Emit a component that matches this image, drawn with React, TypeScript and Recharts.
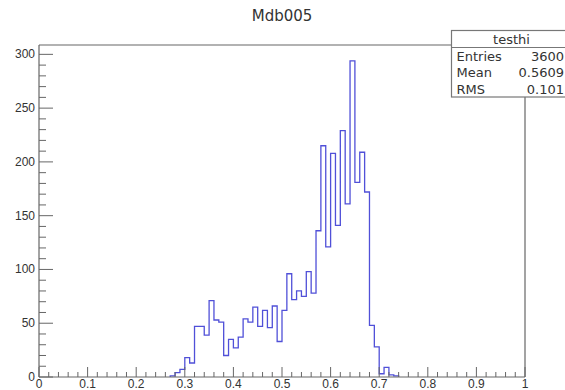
import React from 'react';
import { LineChart, Line, XAxis, YAxis, ReferenceLine } from 'recharts';

const title = 'Mdb005';
const statsName = 'testhi';
const statsLabels = ['Entries', 'Mean', 'RMS'];
const statsValues = ['3600', '0.5609', '0.101'];

// histogram: 100 bins over [0,1]; non-empty bins start at 0.27
const firstBinLow = 0.27;
const binWidth = 0.01;
const counts = [
  1, 4, 7, 18, 13, 47, 47, 39, 71, 53, 51, 20, 35, 27, 37, 54, 51, 65, 47, 62,
  46, 66, 33, 62, 96, 72, 80, 75, 98, 78, 136, 215, 121, 208, 141, 229, 161, 294,
  181, 209, 172, 48, 28, 3, 9, 2, 1,
];

const xTickLabels = ['0', '0.1', '0.2', '0.3', '0.4', '0.5', '0.6', '0.7', '0.8', '0.9', '1'];
const yTickLabels = ['0', '50', '100', '150', '200', '250', '300'];
const yMax = 308.7;

const histData = [
  { x: firstBinLow, count: 0 },
  ...counts.map((c, i) => ({ x: +(firstBinLow + i * binWidth).toFixed(2), count: c })),
  { x: +(firstBinLow + counts.length * binWidth).toFixed(2), count: 0 },
];

const xTicks = Array.from({ length: 51 }, (_, i) => i / 50);
const yTicks = Array.from({ length: 31 }, (_, i) => i * 10);

const AXIS = '#666';
const TEXT = '#333';
const LABEL_FONT = '"Liberation Sans", Arial, sans-serif';
const BOX_FONT = '"DejaVu Sans", sans-serif';

const XTick = (props: any) => {
  const { x, y, payload } = props;
  const i = Math.round(payload.value * 50);
  const major = i % 5 === 0;
  return (
    <g>
      <line x1={x} y1={y} x2={x} y2={y - (major ? 10 : 5)} stroke={AXIS} strokeWidth={1} />
      {major && (
        <text x={x} y={y + 11} textAnchor="middle" fontSize={12} fontFamily={LABEL_FONT} fill={TEXT}>
          {xTickLabels[i / 5]}
        </text>
      )}
    </g>
  );
};

const YTick = (props: any) => {
  const { x, y, payload } = props;
  const i = Math.round(payload.value / 10);
  const major = i % 5 === 0;
  return (
    <g>
      <line x1={x} y1={y} x2={x + (major ? 14 : 7)} y2={y} stroke={AXIS} strokeWidth={1} />
      {major && (
        <text x={x - 4} y={y + 4} textAnchor="end" fontSize={12} fontFamily={LABEL_FONT} fill={TEXT}>
          {yTickLabels[i / 5]}
        </text>
      )}
    </g>
  );
};

export default function App() {
  return (
    <div style={{ position: 'absolute', left: 0, top: 0, width: 565, height: 390, overflow: 'hidden', background: '#fff' }}>
      <div style={{ position: 'absolute', left: 0, top: 0 }}>
        <LineChart width={565} height={390} data={histData} margin={{ top: 45, right: 40, bottom: 0, left: 0 }}>
          <XAxis
            dataKey="x"
            type="number"
            domain={[0, 1]}
            ticks={xTicks}
            interval={0}
            height={13}
            tickSize={0}
            tickMargin={0}
            tickLine={false}
            axisLine={{ stroke: AXIS, strokeWidth: 1.2 }}
            tick={<XTick />}
            allowDataOverflow
          />
          <YAxis
            type="number"
            domain={[0, yMax]}
            ticks={yTicks}
            interval={0}
            width={39}
            tickSize={0}
            tickMargin={0}
            tickLine={false}
            axisLine={{ stroke: AXIS, strokeWidth: 1.2 }}
            tick={<YTick />}
            allowDataOverflow
          />
          <ReferenceLine y={yMax} stroke={AXIS} strokeWidth={1.2} />
          <ReferenceLine x={1} stroke={AXIS} strokeWidth={1.2} />
          <Line
            type="stepAfter"
            dataKey="count"
            stroke="#5050d8"
            strokeWidth={1.3}
            dot={false}
            activeDot={false}
            isAnimationActive={false}
          />
        </LineChart>
      </div>
      <svg width={565} height={390} style={{ position: 'absolute', left: 0, top: 0, pointerEvents: 'none' }}>
        <text x={282} y={21} textAnchor="middle" fontSize={15} fontFamily={BOX_FONT} fill={TEXT}>
          {title}
        </text>
        <rect x={451.5} y={30.5} width={130} height={66.5} fill="#fff" stroke="#777" strokeWidth={1.2} />
        <line x1={451.5} y1={47.5} x2={581} y2={47.5} stroke="#777" strokeWidth={1.2} />
        <text x={511.5} y={44} textAnchor="middle" fontSize={13} fontFamily={BOX_FONT} fill={TEXT}>
          {statsName}
        </text>
        {statsLabels.map((l, i) => (
          <text key={l} x={456.5} y={60.5 + i * 16.5} fontSize={13} fontFamily={BOX_FONT} fill={TEXT}>
            {l}
          </text>
        ))}
        {statsValues.map((v, i) => (
          <text key={v} x={564} y={60.5 + i * 16.5} textAnchor="end" fontSize={13} fontFamily={BOX_FONT} fill={TEXT}>
            {v}
          </text>
        ))}
      </svg>
    </div>
  );
}
